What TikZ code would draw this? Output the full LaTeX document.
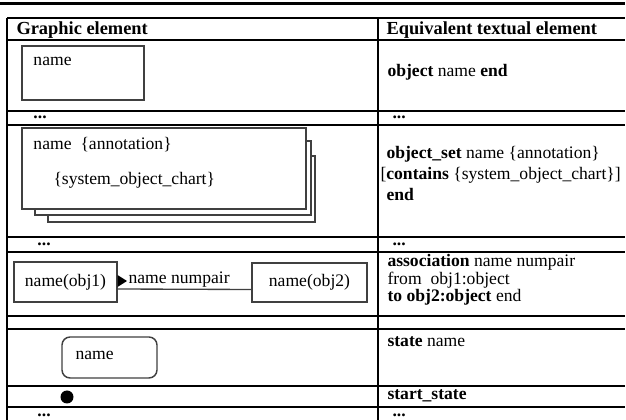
\documentclass[tikz,border=0pt]{standalone}
\usepackage{fontspec}
\setmainfont{Liberation Serif}

\tikzset{every picture/.style={line width=0.75pt}}
\tikzset{
  rowline/.style={draw=black, line width=0.9pt},
  boxline/.style={draw=black!75, line width=1.1pt, fill=white},
  celltxt/.style={anchor=base west, inner sep=0pt, font=\fontsize{13.2}{15}\selectfont},
  headtxt/.style={anchor=base west, inner sep=0pt, font=\fontsize{13.8}{16}\selectfont\bfseries},
}

\begin{document}
\begin{tikzpicture}[x=0.75pt,y=0.75pt,yscale=-1,xscale=1]
	\useasboundingbox (0,0) rectangle (626,420);
	
	%Straight Lines: top rule
	\draw [line width=2.4pt] (0,3.5) -- (625,3.5) ;
	%Straight Lines: row rules
	\foreach \ry in {18,40,111,125,237,252,316,329,386,407}
	  \draw [rowline] (7,\ry) -- (625,\ry) ;
	%Straight Lines: left border and column divider
	\draw [rowline] (7,18) -- (7,420) ;
	\draw [rowline] (378,18) -- (378,420) ;
	
	%Shape: Rectangle (object)
	\draw [boxline] (22,46) rectangle (144,100) ;
	%Shape: Rectangle (object set, back to front)
	\draw [boxline] (48,156) rectangle (315,222) ;
	\draw [boxline] (35,141) rectangle (311,215) ;
	\draw [boxline] (22,128) rectangle (306,209) ;
	%Shape: Rectangle (association ends)
	\node (obj1) [boxline, minimum width=77.25pt, minimum height=30pt, inner sep=0pt, font=\fontsize{13.2}{15}\selectfont] at (65.5,282) {name(obj1)};
	\node (obj2) [boxline, minimum width=86.25pt, minimum height=29.25pt, inner sep=0pt, font=\fontsize{13.2}{15}\selectfont] at (309.5,282.5) {name(obj2)};
	%Straight Lines: association
	\draw [draw=black!75, line width=1pt] ([yshift=5.25pt]obj1.east) -- ([yshift=5.25pt]obj2.west) ;
	%Shape: Triangle
	\fill (117.5,275) -- (127,281) -- (117.5,287) -- cycle ;
	%Shape: Rounded rectangle (state)
	\draw [boxline, rounded corners=6] (62,337) rectangle (157,378) ;
	%Shape: Circle (start state)
	\fill (67,397) circle [radius=6.5] ;
	
	% Text Node
	\node (hdrg) at (16,35) [headtxt] {Graphic element};
	% Text Node
	\node (hdrt) at (386,35) [headtxt] {Equivalent textual element};
	% Text Node
	\node (objname) at (33,66) [celltxt] {name};
	% Text Node
	\node (objtxt) at (387,77) [celltxt] {\textbf{object} name \textbf{end}};
	% Text Node
	\node (dotsl1) at (33,119) [celltxt] {\textbf{...}};
	% Text Node
	\node (dotsr1) at (392,119) [celltxt] {\textbf{...}};
	% Text Node
	\node (setname) at (33,150) [celltxt] {name};
	% Text Node
	\node (setann) at (80,150) [celltxt] {\{annotation\}};
	% Text Node
	\node (setsoc) at (53,185) [celltxt] {\{system\_object\_chart\}};
	% Text Node
	\node (settxta) at (386,159) [celltxt] {\textbf{object\_set} name \{annotation\}};
	% Text Node
	\node (settxtb) at (380,180) [celltxt] {[\textbf{contains} \{system\_object\_chart\}]};
	% Text Node
	\node (settxtc) at (386,201) [celltxt] {\textbf{end}};
	% Text Node
	\node (dotsl2) at (37,246) [celltxt] {\textbf{...}};
	% Text Node
	\node (dotsr2) at (392,246) [celltxt] {\textbf{...}};
	% Text Node
	\node (assname) at (128,284) [celltxt] {name numpair};
	% Text Node
	\node (asstxta) at (387,267) [celltxt] {\textbf{association} name numpair};
	% Text Node
	\node (asstxtb) at (387,285) [celltxt] {from\ \ obj1:object};
	% Text Node
	\node (asstxtc) at (387,302) [celltxt] {\textbf{to obj2:object} end};
	% Text Node
	\node (stname) at (75,360) [celltxt] {name};
	% Text Node
	\node (sttxt) at (387,347) [celltxt] {\textbf{state} name};
	% Text Node
	\node (starttxt) at (387,400) [celltxt] {\textbf{start\_state}};
	% Text Node
	\node (dotsl3) at (37,417) [celltxt] {\textbf{...}};
	% Text Node
	\node (dotsr3) at (392,417) [celltxt] {\textbf{...}};
	
\end{tikzpicture}
\end{document}
